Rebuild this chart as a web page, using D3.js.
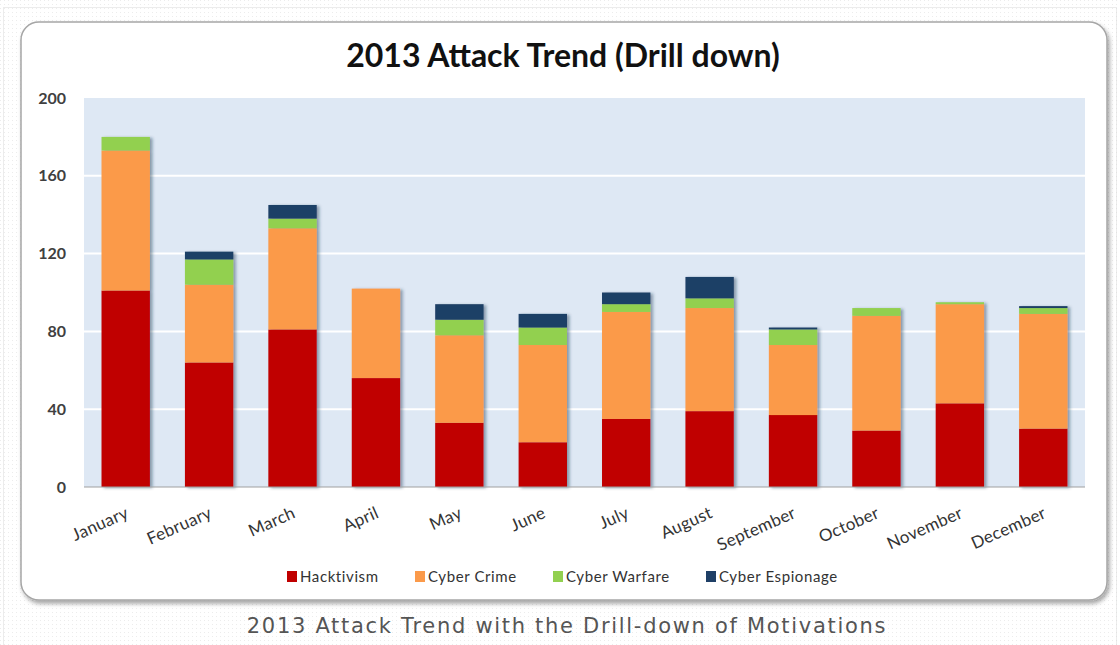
<!DOCTYPE html>
<html>
<head>
<meta charset="utf-8">
<script src="https://cdn.jsdelivr.net/npm/d3@7"></script>
<style>
  html, body { margin: 0; padding: 0; background: #fff; }
  svg { display: block; }
</style>
</head>
<body>
<svg id="chart" width="1120" height="645"></svg>
<script>
const months = ["January","February","March","April","May","June","July","August","September","October","November","December"];
const seriesNames = ["Hacktivism","Cyber Crime","Cyber Warfare","Cyber Espionage"];
const seriesColors = ["#c00000","#fb9a4a","#92d050","#1f3f66"];
const hacktivism     = [101, 64, 81, 56, 33, 23, 35, 39, 37, 29, 43, 30];
const cyberCrime     = [ 72, 40, 52, 46, 45, 50, 55, 53, 36, 59, 51, 59];
const cyberWarfare   = [  7, 13,  5,  0,  8,  9,  4,  5,  8,  4,  1,  3];
const cyberEspionage = [  0,  4,  7,  0,  8,  7,  6, 11,  1,  0,  0,  1];
const yTicks = [0, 40, 80, 120, 160, 200];
const chartTitle = "2013 Attack Trend (Drill down)";
const caption = "2013 Attack Trend with the Drill-down of Motivations";

const table = months.map((m, i) => ({
  month: m,
  "Hacktivism": hacktivism[i],
  "Cyber Crime": cyberCrime[i],
  "Cyber Warfare": cyberWarfare[i],
  "Cyber Espionage": cyberEspionage[i]
}));

const svg = d3.select("#chart");
const defs = svg.append("defs");

const pat = defs.append("pattern").attr("id","dots").attr("width",4).attr("height",4).attr("patternUnits","userSpaceOnUse");
pat.append("rect").attr("width",4).attr("height",4).attr("fill","#ffffff");
pat.append("rect").attr("x",0).attr("y",0).attr("width",1).attr("height",1).attr("fill","#ececec");

const panelShadow = defs.append("filter").attr("id","pshadow").attr("x","-5%").attr("y","-5%").attr("width","110%").attr("height","115%");
panelShadow.append("feDropShadow").attr("dx",2).attr("dy",3).attr("stdDeviation",2).attr("flood-color","#000").attr("flood-opacity",0.35);

const barShadow = defs.append("filter").attr("id","bshadow").attr("x","-5%").attr("y","-5%").attr("width","110%").attr("height","115%");
barShadow.append("feDropShadow").attr("dx",2.5).attr("dy",1).attr("stdDeviation",1.5).attr("flood-color","#1f3050").attr("flood-opacity",0.45);

svg.append("rect").attr("x",0).attr("y",0).attr("width",1120).attr("height",645).attr("fill","url(#dots)");
svg.append("rect").attr("x",3.5).attr("y",7.5).attr("width",1113).attr("height",640).attr("fill","none").attr("stroke","#d8d8d8").attr("stroke-dasharray","1,1");

svg.append("rect").attr("x",21).attr("y",22).attr("width",1086).attr("height",578).attr("rx",18).attr("ry",18)
  .attr("fill","#ffffff").attr("stroke","#a6a6a6").attr("stroke-width",1.5).attr("filter","url(#pshadow)");

const margin = {left: 84, right: 1085, top: 98, bottom: 487};

const x = d3.scaleBand().domain(months).range([margin.left, margin.right]).paddingInner(0.42).paddingOuter(0.21);
const y = d3.scaleLinear().domain([0, 200]).range([margin.bottom, margin.top]);

svg.append("rect").attr("x",margin.left).attr("y",margin.top).attr("width",margin.right-margin.left).attr("height",margin.bottom-margin.top).attr("fill","#dee8f4");

svg.append("g").selectAll("line").data(yTicks.filter(t => t > 0 && t < 200)).join("line")
  .attr("x1",margin.left).attr("x2",margin.right)
  .attr("y1",d => y(d)).attr("y2",d => y(d))
  .attr("stroke","#ffffff").attr("stroke-width",2);

const stack = d3.stack().keys(seriesNames)(table);
const color = d3.scaleOrdinal().domain(seriesNames).range(seriesColors);

const barG = svg.append("g").attr("filter","url(#bshadow)");
barG.selectAll("g.series").data(stack).join("g").attr("class","series")
  .attr("fill", d => color(d.key))
  .selectAll("rect").data(d => d.filter(p => p[1] > p[0])).join("rect")
  .attr("x", d => x(d.data.month))
  .attr("width", x.bandwidth())
  .attr("y", d => y(d[1]))
  .attr("height", d => y(d[0]) - y(d[1]));

const yAxis = svg.append("g").attr("transform",`translate(${margin.left},0)`)
  .call(d3.axisLeft(y).tickValues(yTicks).tickSize(0).tickPadding(18));
yAxis.select(".domain").remove();
yAxis.selectAll("text").attr("font-family","Lato, 'Open Sans', sans-serif").attr("font-weight","bold")
  .attr("font-size",16).attr("fill","#404040");

const xAxis = svg.append("g").attr("transform",`translate(0,${margin.bottom})`)
  .call(d3.axisBottom(x).tickSize(0).tickPadding(0));
xAxis.select(".domain").attr("stroke","#a0a0a0").attr("stroke-width",1.2)
  .attr("d", `M${margin.left},0H${margin.right}`);
xAxis.selectAll("text")
  .attr("font-family","Lato, 'Open Sans', sans-serif").attr("font-size",17).attr("fill","#333")
  .attr("letter-spacing",0.3)
  .attr("text-anchor","end").attr("dy",0)
  .attr("transform","translate(4,30) rotate(-24)");

svg.append("text").attr("x",563).attr("y",67).attr("text-anchor","middle")
  .attr("font-family","Lato, 'Open Sans', sans-serif").attr("font-weight","bold").attr("font-size",32)
  .attr("fill","#111").text(chartTitle);

const legendItems = [
  {name: seriesNames[0], x: 287},
  {name: seriesNames[1], x: 415},
  {name: seriesNames[2], x: 553},
  {name: seriesNames[3], x: 706}
];
const lg = svg.append("g").selectAll("g").data(legendItems).join("g")
  .attr("transform", d => `translate(${d.x},577)`);
lg.append("rect").attr("x",0).attr("y",-6).attr("width",10).attr("height",11).attr("fill", d => color(d.name));
lg.append("text").attr("x",13).attr("y",5).attr("font-family","Lato, 'Open Sans', sans-serif").attr("font-size",15)
  .attr("letter-spacing",0.6).attr("fill","#333").text(d => d.name);

svg.append("text").attr("x",567).attr("y",633).attr("text-anchor","middle")
  .attr("font-family","'DejaVu Sans', sans-serif").attr("font-size",21).attr("letter-spacing",1.7).attr("fill","#555")
  .text(caption);
</script>
</body>
</html>
